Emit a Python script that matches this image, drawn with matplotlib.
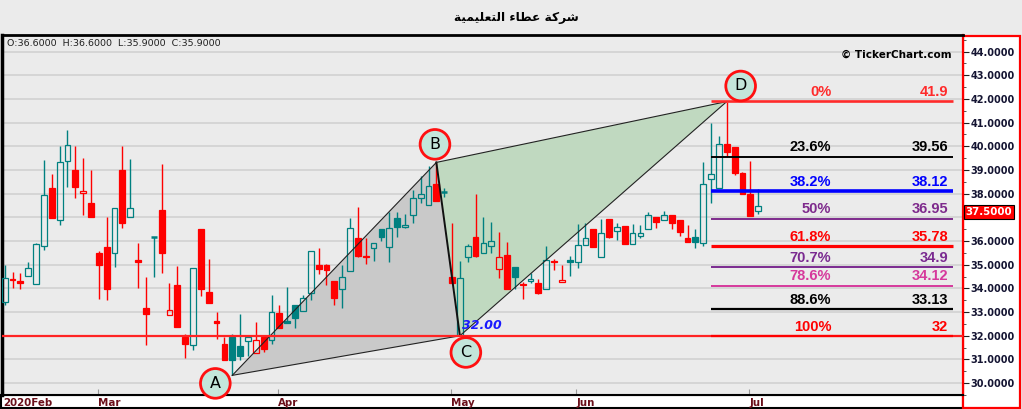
import matplotlib
matplotlib.use('Agg')
import numpy as np
import matplotlib.pyplot as plt
import matplotlib.transforms as mtransforms
from matplotlib.patches import Rectangle, Polygon

# title, already shaped (presentation forms, visual order) since matplotlib has no arabic shaping
title = ('\ufe94\ufef4\ufee4\ufef4\ufee0\ufecc\ufe98\ufedf\ufe8d'
         ' \ufe80\ufe8e\ufec4\ufecb'
         ' \ufe94\ufedb\ufeae\ufeb7')
ohlc_text = 'O:36.6000  H:36.6000  L:35.9000  C:35.9000'

opens = [33.43, 34.40, 34.33, 34.53, 34.19, 35.78, 38.25, 36.90, 39.40, 39.00,
         38.03, 37.61, 35.50, 35.75, 35.49, 39.00, 37.00, 35.19, 33.19, 36.19,
         37.33, 32.89, 34.13, 31.93, 31.60, 36.50, 33.83, 32.63, 31.67, 31.97,
         31.58, 31.78, 31.28, 31.97, 31.82, 32.96, 32.61, 33.32, 33.03, 33.82,
         34.99, 34.99, 34.32, 33.99, 34.74, 36.13, 35.38, 35.69, 36.49, 35.74,
         36.96, 36.61, 37.11, 37.82, 37.53, 38.42, 38.08, 34.50, 32.04, 35.32,
         36.19, 35.49, 35.78, 34.82, 35.42, 34.92, 34.19, 34.32, 34.25, 33.97,
         35.17, 34.28, 35.19, 35.10, 35.82, 36.50, 35.32, 36.92, 36.44, 36.63,
         35.86, 36.22, 36.53, 37.00, 36.90, 37.08, 36.88, 36.11, 36.17, 35.93,
         38.61, 38.26, 40.11, 39.99, 38.86, 38.00, 37.28]
highs = [34.99, 34.71, 34.67, 35.10, 35.92, 39.42, 38.83, 40.00, 40.67, 40.00,
         39.50, 39.00, 35.57, 37.00, 37.40, 40.00, 39.46, 35.92, 34.49, 36.19,
         39.25, 34.21, 34.96, 32.07, 34.86, 36.50, 35.25, 33.00, 31.97, 32.07,
         32.92, 31.94, 32.58, 31.97, 33.71, 33.29, 34.04, 33.32, 33.71, 35.57,
         35.71, 35.03, 34.32, 34.99, 36.96, 37.42, 36.13, 35.93, 36.49, 37.24,
         37.21, 37.14, 38.17, 38.74, 39.19, 39.32, 38.25, 36.75, 35.17, 35.89,
         38.00, 37.00, 36.81, 36.40, 35.96, 34.92, 34.28, 34.64, 34.40, 35.79,
         35.24, 35.00, 35.38, 36.71, 36.78, 36.50, 36.92, 36.92, 36.75, 36.63,
         36.71, 36.67, 37.21, 37.00, 37.29, 37.08, 36.88, 36.67, 36.50, 39.33,
         41.00, 40.42, 41.89, 39.99, 38.92, 39.36, 38.21]
lows = [33.32, 34.01, 33.97, 34.53, 34.19, 35.61, 36.97, 36.68, 38.28, 37.81,
        37.10, 37.01, 33.56, 33.51, 34.89, 36.56, 37.00, 34.01, 31.60, 34.49,
        34.64, 32.89, 32.39, 31.06, 31.39, 33.68, 33.39, 31.86, 30.99, 30.33,
        30.99, 31.14, 31.28, 31.31, 31.64, 32.35, 32.53, 32.31, 33.03, 33.53,
        34.60, 34.15, 33.31, 33.18, 34.74, 35.32, 35.03, 35.14, 36.00, 35.10,
        36.18, 36.57, 36.75, 37.60, 37.53, 37.68, 37.86, 34.25, 32.00, 35.10,
        35.32, 35.49, 35.51, 34.44, 33.97, 33.97, 33.57, 34.22, 33.76, 33.97,
        34.76, 34.28, 34.51, 34.88, 35.82, 35.76, 35.32, 36.14, 36.06, 35.89,
        35.86, 36.11, 36.53, 36.56, 36.90, 36.53, 36.22, 35.96, 35.72, 35.79,
        37.60, 38.22, 39.61, 38.81, 37.97, 37.06, 37.14]
closes = [34.43, 34.35, 34.24, 34.86, 35.89, 37.94, 36.97, 39.33, 40.07, 38.28,
          38.11, 37.01, 34.97, 33.97, 37.40, 36.76, 37.40, 35.10, 32.93, 36.19,
          35.50, 33.08, 32.39, 31.67, 34.86, 33.97, 33.39, 32.53, 30.99, 30.99,
          31.14, 31.94, 31.82, 31.43, 33.00, 32.35, 32.53, 32.76, 33.61, 35.57,
          34.81, 34.78, 33.61, 34.49, 36.57, 35.35, 35.33, 35.93, 36.19, 36.57,
          36.61, 36.69, 37.82, 37.99, 38.32, 37.68, 38.08, 34.25, 34.46, 35.81,
          35.38, 35.90, 35.99, 35.32, 33.97, 34.47, 34.14, 34.40, 33.79, 35.19,
          35.10, 34.36, 35.11, 35.82, 36.11, 35.76, 36.33, 36.18, 36.61, 35.89,
          36.32, 36.33, 37.11, 36.81, 37.11, 36.76, 36.39, 35.96, 35.97, 38.40,
          38.82, 40.11, 39.76, 38.89, 38.00, 37.06, 37.49]

month_labels = ['2020Feb', 'Mar', 'Apr', 'May', 'Jun', 'Jul']
month_start = [0, 12, 35, 57, 73, 95]

# harmonic pattern points (candle index); A/C on lows, B/D on highs
pattern_names = ['A', 'B', 'C', 'D']
pattern_idx = [29, 55, 58, 92]

fib_pct = ['0%', '23.6%', '38.2%', '50%', '61.8%', '70.7%', '78.6%', '88.6%', '100%']
fib_levels = [41.9, 39.56, 38.12, 36.95, 35.78, 34.9, 34.12, 33.13, 32]
fib_colors = ['#ff2a2a', '#000000', '#0000ff', '#7e2a8c', '#ff0000',
              '#7a2a90', '#d6399c', '#000000', '#ff0000']
fib_lw = [1.9, 1.4, 2.6, 1.4, 2.3, 1.4, 1.4, 1.6, 1.6]

last_price = 37.5

BG = '#ebebeb'
RED = '#ff0000'
TEAL = '#008080'
W, H = 1022, 409


def fx(x):
    return x / W


def fy(y):
    return 1 - y / H


def price_fmt(v, pos):
    # the last price tag hides the label just under it
    if 0 < last_price - v < 1:
        return ''
    return '%.4f' % v


fig = plt.figure(figsize=(W / 100, H / 100), dpi=100, facecolor=BG)
ax = fig.add_axes([fx(2), fy(395), fx(963) - fx(2), fy(35) - fy(395)], facecolor=BG)
ax.set_xlim(-0.34, 122.1)
ax.set_ylim(29.70, 44.70)

# white strips for the axes, under the axes
fig.patches.append(Rectangle((fx(1), fy(408)), fx(963) - fx(1), fy(395) - fy(408),
                             transform=fig.transFigure, fc='white', ec='black',
                             lw=1.5, zorder=-1))
fig.patches.append(Rectangle((fx(963), fy(408)), fx(1020) - fx(963), fy(36) - fy(408),
                             transform=fig.transFigure, fc='white', ec=RED,
                             lw=1.6, zorder=-1))

ax.set_yticks(range(30, 45))
ax.set_yticks(np.arange(29.5, 45, 1), minor=True)
ax.yaxis.tick_right()
ax.yaxis.set_major_formatter(matplotlib.ticker.FuncFormatter(price_fmt))
ax.tick_params(axis='y', which='major', length=4, width=0.8, color='#222222',
               labelsize=7, labelcolor='#141432', pad=1.5)
ax.tick_params(axis='y', which='minor', length=2.5, width=0.7, color='#555555')
for lab in ax.get_yticklabels():
    lab.set_fontweight('bold')
ax.grid(axis='y', color='#d3d3d3', lw=1.3)
ax.set_axisbelow(True)

ax.set_xticks([m - 0.15 for m in month_start])
ax.set_xticklabels(month_labels, ha='left', fontsize=7.4, fontweight='bold', color='#6b0f1a')
ax.tick_params(axis='x', direction='in', length=4, width=0.8, color='#999999', pad=2)

ax.spines['left'].set_linewidth(2.5)
ax.spines['top'].set_linewidth(2)
ax.spines['bottom'].set_linewidth(1.5)
ax.spines['right'].set_color(RED)
ax.spines['right'].set_linewidth(1.6)

# pattern triangles
px = pattern_idx
py = [lows[px[0]], highs[px[1]], lows[px[2]], highs[px[3]]]
ax.add_patch(Polygon([(px[0], py[0]), (px[1], py[1]), (px[2], py[2])],
                     closed=True, fc='#c9c9c9', ec='none', zorder=2))
ax.add_patch(Polygon([(px[1], py[1]), (px[2], py[2]), (px[3], py[3])],
                     closed=True, fc='#c0d9c0', ec='none', zorder=2))

# candles
bw = 0.74
for i in range(len(closes)):
    o, h, l, c = opens[i], highs[i], lows[i], closes[i]
    prev = closes[i - 1] if i > 0 else o
    col = RED if c < prev else TEAL
    lo_b, hi_b = min(o, c), max(o, c)
    ax.vlines(i, l, lo_b, color=col, lw=1, zorder=3)
    ax.vlines(i, hi_b, h, color=col, lw=1, zorder=3)
    if hi_b - lo_b < 0.03:
        ax.hlines(o, i - bw / 2, i + bw / 2, color=col, lw=1.8, zorder=3)
    else:
        ax.add_patch(Rectangle((i - bw / 2, lo_b), bw, hi_b - lo_b,
                               fc=col if c < o else 'none', ec=col, lw=0.9, zorder=3))

# pattern edges
ax.plot([px[0], px[1]], [py[0], py[1]], color='#222222', lw=0.8, zorder=4)
ax.plot([px[0], px[2]], [py[0], py[2]], color='#222222', lw=0.8, zorder=4)
ax.plot([px[1], px[2]], [py[1], py[2]], color='#111111', lw=1.4, zorder=4)
ax.plot([px[1], px[3]], [py[1], py[3]], color='#222222', lw=0.8, zorder=4)
ax.plot([px[2], px[3]], [py[2], py[3]], color='#222222', lw=0.8, zorder=4)

ax.axhline(py[2], color='#ff2424', lw=1.6, zorder=4)
ax.annotate('%.2f' % py[2], (px[2], py[2]), xytext=(1.5, 3), textcoords='offset points',
            ha='left', va='bottom', fontsize=9, fontweight='bold', fontstyle='italic',
            color='#1a1aff', zorder=6)

# fibonacci levels
fib_x0, fib_x1 = 90, 120.8
for pct, lev, col, lw in zip(fib_pct, fib_levels, fib_colors, fib_lw):
    ax.hlines(lev, fib_x0, fib_x1, color=col, lw=lw, zorder=5)
    ax.annotate(pct, (105.3, lev), xytext=(0, 3.8), textcoords='offset points',
                ha='right', va='baseline', fontsize=10.5, fontweight='bold',
                family='Liberation Sans', color=col, zorder=6)
    ax.annotate('%g' % lev, (120.2, lev), xytext=(0, 3.8), textcoords='offset points',
                ha='right', va='baseline', fontsize=10.5, fontweight='bold',
                family='Liberation Sans', color=col, zorder=6)

# point markers
offsets = [(-12.2, -5.8), (-1, 13), (4.3, -12), (10, 11.2)]
for name, x, y, off in zip(pattern_names, px, py, offsets):
    t = ax.annotate(name, (x, y), xytext=off, textcoords='offset points',
                    ha='center', va='center', fontsize=11.5, color='black', zorder=7,
                    bbox=dict(boxstyle='circle,pad=0.46', fc='#c3e6da', ec='#ff1010', lw=2))
    t.set_clip_on(True)

# last price tag
trans = mtransforms.blended_transform_factory(ax.transAxes, ax.transData)
ax.annotate('%.4f' % last_price, (1.0, last_price), xycoords=trans, xytext=(2, -4.5),
            textcoords='offset points', ha='left', va='center', fontsize=7.4,
            fontweight='bold', color='white', annotation_clip=False, zorder=8,
            bbox=dict(boxstyle='square,pad=0.2', fc=RED, ec='black', lw=0.8))

fig.text(fx(516), fy(17), title, ha='center', va='center', fontsize=8.8,
         fontweight='bold', family=['DejaVu Sans'], color='black')
fig.text(fx(7), fy(44), ohlc_text, ha='left', va='center', fontsize=6.8, color='#202020')
fig.text(fx(952), fy(55), '\u00a9 TickerChart.com', ha='right', va='center',
         fontsize=7.5, fontweight='bold', color='black')

fig.savefig('out.png', dpi=100, facecolor=BG)
